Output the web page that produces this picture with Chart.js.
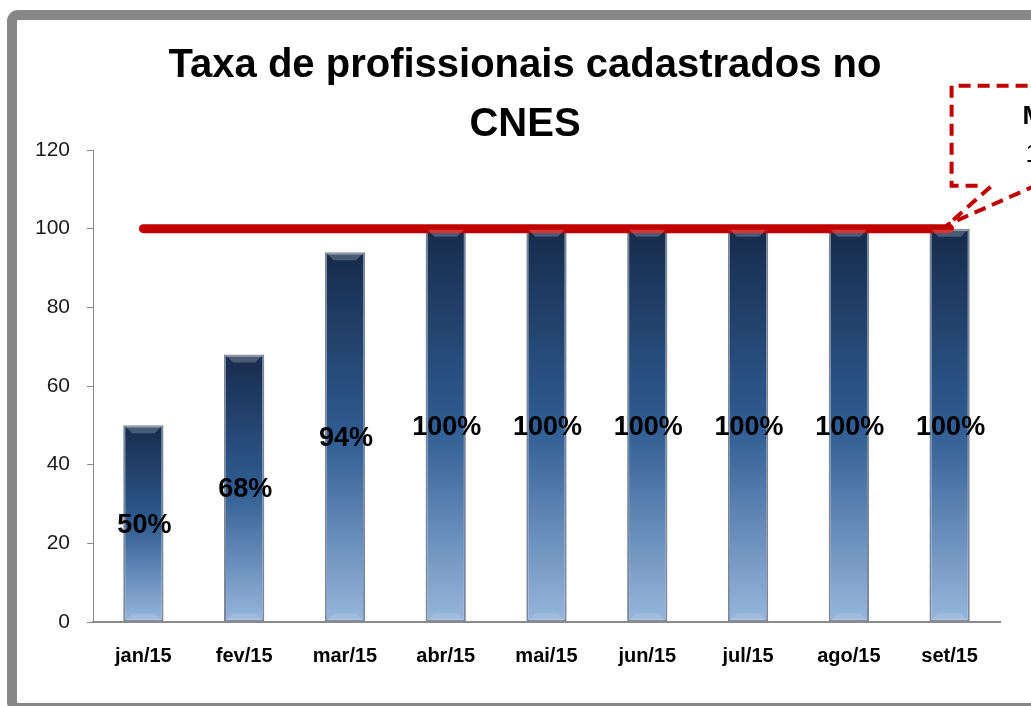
<!DOCTYPE html>
<html>
<head>
<meta charset="utf-8">
<script src="https://cdn.jsdelivr.net/npm/chart.js@4/dist/chart.umd.min.js"></script>
<style>
  html, body { margin: 0; padding: 0; background: #fff; }
  #wrap { position: relative; width: 1031px; height: 706px; }
</style>
</head>
<body>
<div id="wrap"><canvas id="taxaChart" width="1031" height="706"></canvas></div>
<script>
'use strict';

var meses = ['jan/15', 'fev/15', 'mar/15', 'abr/15', 'mai/15', 'jun/15', 'jul/15', 'ago/15', 'set/15'];
var taxa = [50, 68, 94, 100, 100, 100, 100, 100, 100];
var meta = [100, 100, 100, 100, 100, 100, 100, 100, 100];
var tituloLinhas = ['Taxa de profissionais cadastrados no', 'CNES'];
var metaTexto = ['Meta', '100%'];

var vermelho = '#C00000';
var fonte = "'Liberation Sans', Arial, sans-serif";

// gradient per bar, dark on top, light at the base
function barFill(ctx) {
   var chart = ctx.chart;
   if (!chart.chartArea || ctx.type !== 'data') {
      return '#2E5A8E';
   }
   var y = chart.scales.y;
   var top = y.getPixelForValue(ctx.raw);
   var base = y.getPixelForValue(0);
   var g = chart.ctx.createLinearGradient(0, top, 0, base);
   g.addColorStop(0, '#172B4B');
   g.addColorStop(0.5, '#2F5C92');
   g.addColorStop(1, '#98B6DC');
   return g;
}

var moldura = {
   id: 'moldura',
   beforeDraw: function(chart) {
      var c = chart.ctx;
      c.save();
      c.fillStyle = '#fff';
      c.fillRect(0, 0, chart.width, chart.height);
      c.strokeStyle = '#878787';
      c.lineWidth = 10;
      c.beginPath();
      c.roundRect(12, 15, 1100, 693, 6);
      c.stroke();
      // title, centred a bit left of the canvas middle like the original
      c.fillStyle = '#000';
      c.font = 'bold 40px ' + fonte;
      c.textAlign = 'center';
      c.textBaseline = 'middle';
      c.fillText(tituloLinhas[0], 525, 66);
      c.fillText(tituloLinhas[1], 525, 125);
      c.restore();
   }
};

// bevel highlight + value labels on bars
var rotulos = {
   id: 'rotulos',
   afterDatasetsDraw: function(chart) {
      var c = chart.ctx;
      var meta0 = chart.getDatasetMeta(0);
      c.save();
      meta0.data.forEach(function(bar, i) {
         var l = bar.x - bar.width / 2 + 2;
         var r = bar.x + bar.width / 2 - 2;
         c.fillStyle = 'rgba(255,255,255,0.22)';
         c.beginPath();
         c.moveTo(l, bar.y + 1);
         c.lineTo(r, bar.y + 1);
         c.lineTo(r - 7, bar.y + 8);
         c.lineTo(l + 7, bar.y + 8);
         c.closePath();
         c.fill();
         c.fillStyle = 'rgba(255,255,255,0.12)';
         c.beginPath();
         c.moveTo(l, bar.base - 1);
         c.lineTo(r, bar.base - 1);
         c.lineTo(r - 7, bar.base - 8);
         c.lineTo(l + 7, bar.base - 8);
         c.closePath();
         c.fill();
      });
      c.fillStyle = '#000';
      c.font = 'bold 27px ' + fonte;
      c.textAlign = 'center';
      c.textBaseline = 'middle';
      meta0.data.forEach(function(bar, i) {
         c.fillText(taxa[i] + '%', bar.x + 1, (bar.y + bar.base) / 2 + 2);
      });
      c.restore();
   }
};

// dashed callout pointing at the end of the goal line
var chamada = {
   id: 'chamada',
   afterDraw: function(chart) {
      var c = chart.ctx;
      var pts = chart.getDatasetMeta(1).data;
      var tip = pts[pts.length - 1];
      var tx = tip.x - 4, ty = tip.y - 2;
      c.save();
      c.strokeStyle = vermelho;
      c.lineWidth = 4;
      c.setLineDash([12, 7]);
      c.beginPath();
      c.moveTo(tx + 32, ty - 41);
      c.lineTo(tx + 6, ty - 41);
      c.lineTo(tx + 6, ty - 141);
      c.lineTo(tx + 160, ty - 141);
      c.stroke();
      c.beginPath();
      c.moveTo(tx + 45, ty - 40);
      c.lineTo(tx, ty);
      c.moveTo(tx + 92, ty - 42);
      c.lineTo(tx + 2, ty - 2);
      c.stroke();
      c.setLineDash([]);
      c.fillStyle = '#000';
      c.textAlign = 'left';
      c.textBaseline = 'middle';
      c.font = 'bold 26px ' + fonte;
      c.fillText(metaTexto[0], tx + 77, ty - 110);
      c.font = '26px ' + fonte;
      c.fillText(metaTexto[1], tx + 80, ty - 72);
      c.restore();
   }
};

var ctx = document.getElementById('taxaChart');
var taxaChart = new Chart(ctx, {
   type: 'bar',
   data: {
      labels: meses,
      datasets: [{
         label: 'Taxa',
         data: taxa,
         backgroundColor: barFill,
         borderColor: '#7B889B',
         borderWidth: 2,
         borderSkipped: false,
         categoryPercentage: 0.8,
         barPercentage: 0.5,
         order: 1
      }, {
         type: 'line',
         label: 'Meta',
         data: meta,
         borderColor: vermelho,
         borderWidth: 9,
         borderCapStyle: 'round',
         pointRadius: 0,
         fill: false,
         order: 0
      }]
   },
   plugins: [moldura, rotulos, chamada],
   options: {
      responsive: false,
      animation: false,
      layout: {
         padding: { left: 0, right: 31, top: 150, bottom: 0 }
      },
      plugins: {
         legend: { display: false },
         tooltip: { enabled: false },
         title: { display: false }
      },
      scales: {
         x: {
            afterFit: function(s) { s.height = 84; },
            grid: { display: true, drawOnChartArea: false, drawTicks: false },
            border: { display: true, color: '#8A8A8A', width: 2 },
            ticks: {
               color: '#000',
               padding: 22,
               font: { family: fonte, size: 20, weight: 'bold' }
            }
         },
         y: {
            min: 0,
            max: 120,
            afterFit: function(s) { s.width = 93; },
            grid: { display: true, drawOnChartArea: false, drawTicks: true, tickLength: 6, color: '#8A8A8A' },
            border: { display: true, color: '#8A8A8A', width: 1 },
            ticks: {
               stepSize: 20,
               color: '#1a1a1a',
               padding: 17,
               font: { family: fonte, size: 21 }
            }
         }
      }
   }
});
</script>
</body>
</html>
